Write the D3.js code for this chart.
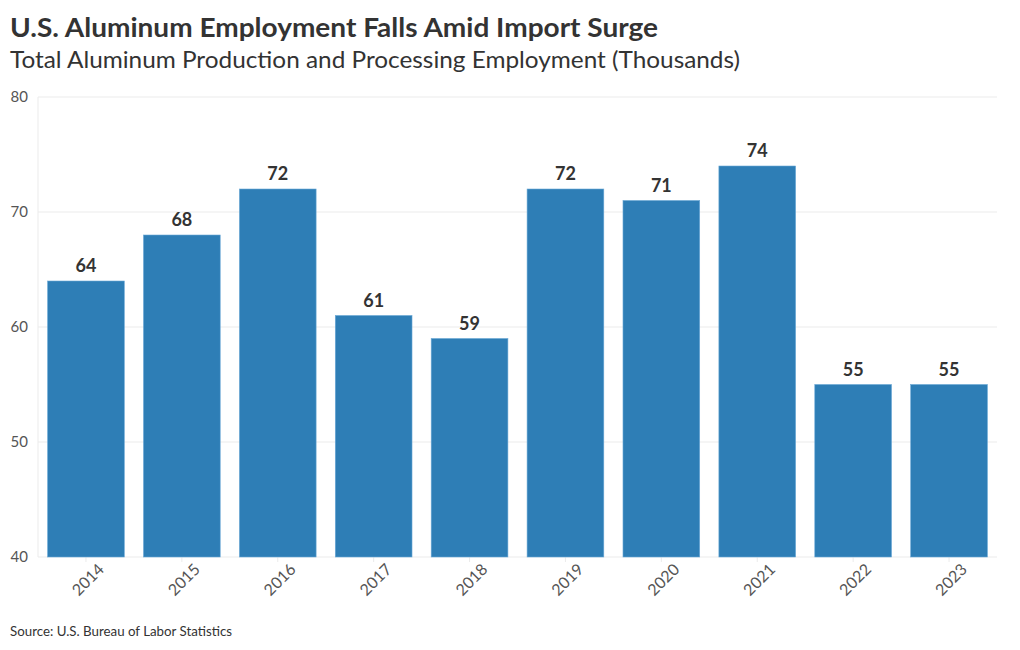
<!DOCTYPE html>
<html><head><meta charset="utf-8">
<script src="https://cdn.jsdelivr.net/npm/d3@7"></script>
<style>body{margin:0;background:#fff;} text{font-family:Lato,"Noto Sans",sans-serif;}</style>
</head><body>
<svg id="c" width="1020" height="650"></svg>
<script>
const years = ["2014","2015","2016","2017","2018","2019","2020","2021","2022","2023"];
const employment = [64,68,72,61,59,72,71,74,55,55];
const yTicks = [40,50,60,70,80];

const svg = d3.select("#c");
const m = {l:38, r:997, t:97, b:557};
const x = d3.scaleBand().domain(years).range([m.l, m.r]).paddingInner(0.2).paddingOuter(0.1);
const y = d3.scaleLinear().domain([40,80]).range([m.b, m.t]);

svg.append("text").attr("x",10).attr("y",37).attr("font-size",27.5).attr("font-weight",700).attr("fill","#333")
  .attr("textLength",648).attr("lengthAdjust","spacingAndGlyphs")
  .text("U.S. Aluminum Employment Falls Amid Import Surge");
svg.append("text").attr("x",10).attr("y",68).attr("font-size",24).attr("fill","#333")
  .attr("textLength",730).attr("lengthAdjust","spacingAndGlyphs")
  .text("Total Aluminum Production and Processing Employment (Thousands)");

// grid
svg.append("g").selectAll("line").data(yTicks).join("line")
  .attr("x1",m.l).attr("x2",m.r).attr("y1",d=>y(d)).attr("y2",d=>y(d))
  .attr("stroke","#ebebeb").attr("stroke-width",1);
svg.append("line").attr("x1",m.l).attr("x2",m.l).attr("y1",m.t).attr("y2",m.b).attr("stroke","#ebebeb");

const ya = svg.append("g").attr("transform",`translate(${m.l},0)`)
  .call(d3.axisLeft(y).tickValues(yTicks).tickSize(0).tickPadding(10));
ya.select(".domain").remove();
ya.selectAll("text").attr("font-size",15).attr("fill","#555").style("font-family","Lato,sans-serif");

const xa = svg.append("g").attr("transform",`translate(0,${m.b})`)
  .call(d3.axisBottom(x).tickSize(5).tickPadding(6));
xa.select(".domain").remove();
xa.selectAll("line").attr("stroke","#ebebeb");
xa.selectAll("text").attr("font-size",16).attr("fill","#555").style("font-family","Lato,sans-serif")
  .attr("text-anchor","end").attr("dx","0.25em").attr("dy","0.75em").attr("transform","rotate(-45)");

svg.append("g").selectAll("rect").data(years).join("rect")
  .attr("x",d=>x(d)).attr("width",x.bandwidth())
  .attr("y",(d,i)=>y(employment[i])).attr("height",(d,i)=>m.b-y(employment[i]))
  .attr("fill","#2e7eb6").attr("stroke","#6aa8d6").attr("stroke-width",0.6);

svg.append("g").selectAll("text").data(years).join("text")
  .attr("x",d=>x(d)+x.bandwidth()/2).attr("y",(d,i)=>y(employment[i])-9)
  .attr("text-anchor","middle").attr("font-size",18).attr("font-weight",700).attr("fill","#333")
  .text((d,i)=>employment[i]);

svg.append("text").attr("x",10).attr("y",636).attr("font-size",13.3).attr("fill","#333")
  .text("Source: U.S. Bureau of Labor Statistics");
</script>
</body></html>
